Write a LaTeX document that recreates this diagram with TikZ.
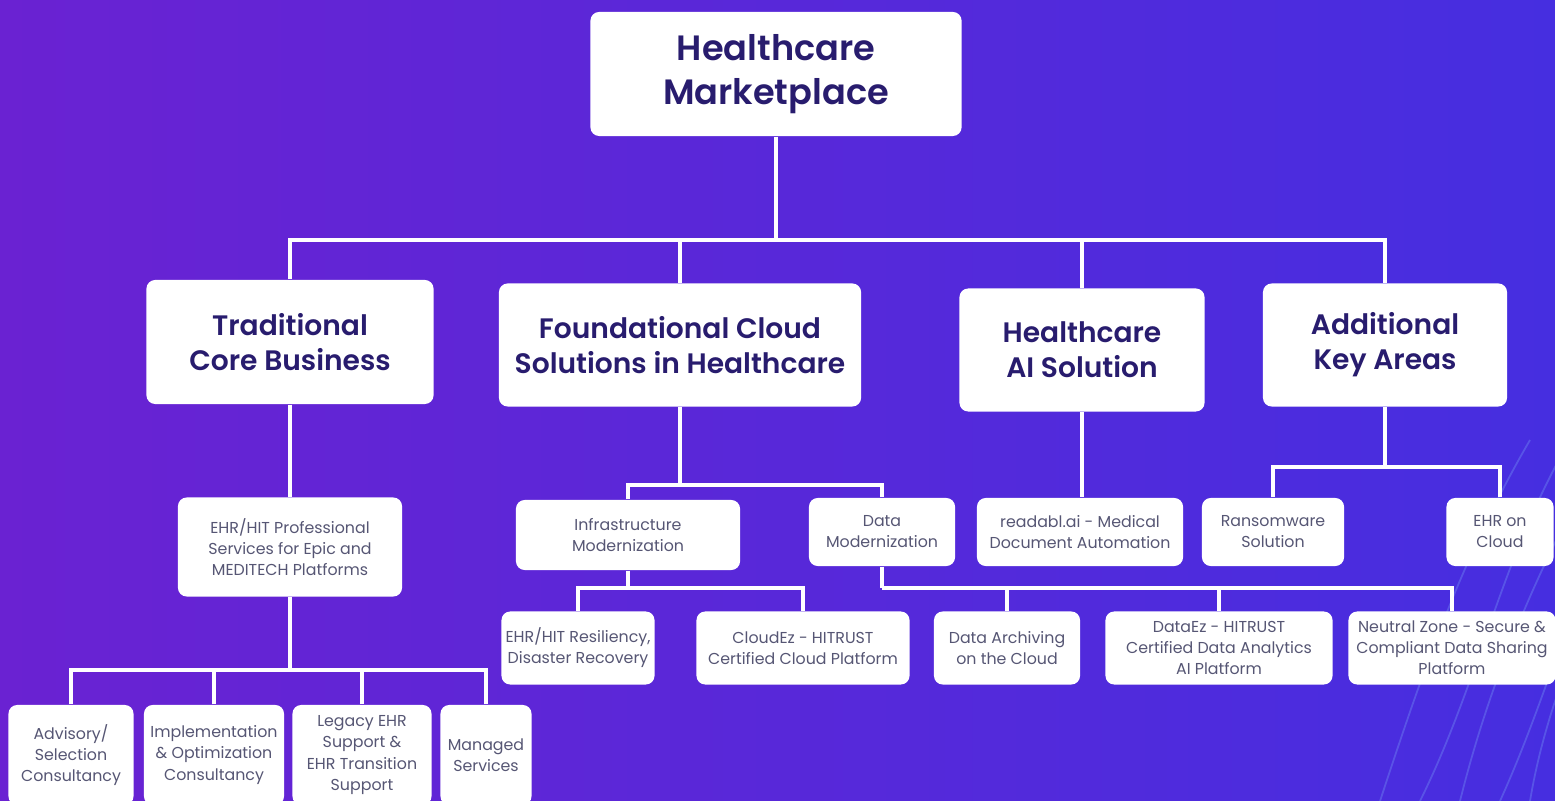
\documentclass[tikz,border=0pt]{standalone}
\usepackage{fontspec}
\IfFontExistsTF{Poppins SemiBold}
  {\setmainfont{Poppins}[BoldFont={Poppins SemiBold}]}
  {\setmainfont{Poppins}}
\usetikzlibrary{positioning,backgrounds}
\definecolor{bgl}{RGB}{106,34,210}
\definecolor{bgr}{RGB}{70,46,224}
\definecolor{headtxt}{RGB}{40,28,110}
\definecolor{subtxt}{RGB}{86,86,116}
\definecolor{streak}{RGB}{140,200,255}

\begin{document}
\begin{tikzpicture}
[x=0.01cm,y=-0.01cm,
box/.style={rectangle,rounded corners=2.5pt,fill=white,inner sep=0pt,align=center},
head/.style={box,text=headtxt,font=\bfseries\fontsize{8}{10}\selectfont},
leaf/.style={box,text=subtxt,font=\fontsize{4.5}{6}\selectfont},
wire/.style={white,line width=1.4pt}]

\useasboundingbox (0,0) rectangle (1555,801);
\clip (0,0) rectangle (1555,801);
\shade[left color=bgl,right color=bgr] (0,0) rectangle (1555,801);

\foreach \s/\t in {1380/0,1420/20,1460/-10,1500/15,1530/-20}
  \draw[streak,opacity=.25,line width=.5pt] (\s,801) .. controls (\s+40+\t,680) and (\s+80,560) .. (\s+150,440);

\node[head,minimum width=3.71cm,minimum height=1.24cm,font=\bfseries\fontsize{10}{12.6}\selectfont] (root) at (776,74) {Healthcare\\Marketplace};

\node[head,minimum width=2.87cm,minimum height=1.24cm] (tcb) at (290,342) {Traditional\\Core Business};
\node[head,minimum width=3.62cm,minimum height=1.23cm] (fcs) at (680,345) {Foundational Cloud\\Solutions in Healthcare};
\node[head,minimum width=2.45cm,minimum height=1.23cm] (ai) at (1082,350) {Healthcare\\AI Solution};
\node[head,minimum width=2.44cm,minimum height=1.23cm] (add) at (1385,345) {Additional\\Key Areas};

\node[leaf,minimum width=2.24cm,minimum height=0.99cm] (prof) at (290,547) {EHR/HIT Professional\\Services for Epic and\\MEDITECH Platforms};
\node[leaf,minimum width=2.24cm,minimum height=0.70cm] (infra) at (628,535) {Infrastructure\\Modernization};
\node[leaf,minimum width=1.46cm,minimum height=0.68cm] (datamod) at (882,532) {Data\\Modernization};
\node[leaf,minimum width=2.06cm,minimum height=0.68cm] (readabl) at (1080,532) {readabl.ai - Medical\\Document Automation};
\node[leaf,minimum width=1.42cm,minimum height=0.68cm] (ransom) at (1273,532) {Ransomware\\Solution};
\node[leaf,minimum width=1.07cm,minimum height=0.68cm] (ehrcloud) at (1500,532) {EHR on\\Cloud};

\node[leaf,minimum width=1.53cm,minimum height=0.73cm] (resil) at (578,648) {EHR/HIT Resiliency,\\Disaster Recovery};
\node[leaf,minimum width=2.13cm,minimum height=0.73cm] (cloudez) at (803,648) {CloudEz - HITRUST\\Certified Cloud Platform};
\node[leaf,minimum width=1.46cm,minimum height=0.73cm] (arch) at (1007,648) {Data Archiving\\on the Cloud};
\node[leaf,minimum width=2.27cm,minimum height=0.73cm] (dataez) at (1219,648) {DataEz - HITRUST\\Certified Data Analytics\\AI Platform};
\node[leaf,minimum width=2.07cm,minimum height=0.73cm] (neutral) at (1452,648) {Neutral Zone - Secure \&\\Compliant Data Sharing\\Platform};

\node[leaf,minimum width=1.25cm,minimum height=1.00cm] (adv) at (71,755) {Advisory/\\Selection\\Consultancy};
\node[leaf,minimum width=1.40cm,minimum height=1.00cm] (impl) at (214,755) {Implementation\\\& Optimization\\Consultancy};
\node[leaf,minimum width=1.39cm,minimum height=1.00cm] (legacy) at (362,755) {Legacy EHR\\Support \&\\EHR Transition\\Support};
\node[leaf,minimum width=0.91cm,minimum height=1.00cm] (managed) at (486,755) {Managed\\Services};

\coordinate (b0) at (776,240);
\coordinate (b1) at (680,485);
\coordinate (b2) at (1385,467);
\coordinate (b3) at (628,588);
\coordinate (b4) at (882,588);
\coordinate (b5) at (290,670);

\draw[wire] (root.south) -- (b0);
\foreach \n in {tcb,fcs,ai,add}
  \draw[wire] (\n.north) |- (b0);

\draw[wire] (tcb.south) -- (prof.north);
\draw[wire] (fcs.south) -- (b1);
\draw[wire] (infra.north) |- (b1);
\draw[wire] (datamod.north) |- (b1);
\draw[wire] (ai.south) -- (ai.south |- readabl.north);
\draw[wire] (add.south) -- (b2);
\draw[wire] (ransom.north) |- (b2);
\draw[wire] (ehrcloud.north) |- (b2);

\draw[wire] (infra.south) -- (b3);
\draw[wire] (resil.north) |- (b3);
\draw[wire] (cloudez.north) |- (b3);
\draw[wire] (datamod.south) -- (b4);
\foreach \n in {arch,dataez,neutral}
  \draw[wire] (\n.north) |- (b4);

\draw[wire] (prof.south) -- (b5);
\foreach \n in {adv,impl,legacy,managed}
  \draw[wire] (\n.north) |- (b5);
\end{tikzpicture}
\end{document}
